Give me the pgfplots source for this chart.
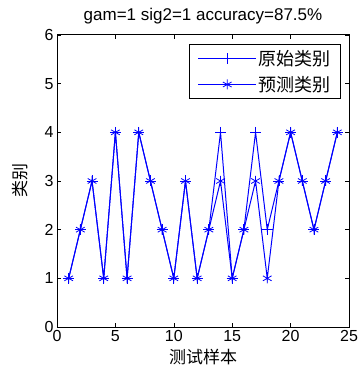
\documentclass[border=0pt]{standalone}
\usepackage{fontspec}
\setmainfont{Liberation Sans}
\newfontfamily\cjk{Noto Sans CJK SC}
\usepackage{pgfplots}
\pgfplotsset{compat=1.18}
\begin{document}
\begin{tikzpicture}
\path (-57pt,-44pt) rectangle (301pt,327pt);
\begin{axis}[
  at={(0,0)}, anchor=south west,
  scale only axis, width=292pt, height=292pt,
  xmin=0, xmax=25, ymin=0, ymax=6,
  xtick={0,5,...,25}, ytick={0,1,...,6},
  tick align=inside, major tick length=4pt,
  tick style={black, line width=0.6pt},
  axis line style={black, line width=1pt},
  /pgf/number format/assume math mode=true,
  tick label style={font=\fontsize{16}{17}\selectfont},
  title={gam=1 sig2=1 accuracy=87.5\%},
  title style={font=\fontsize{17}{18}\selectfont, at={(axis description cs:0.5,1.045)}, anchor=center},
  xlabel={\cjk 测试样本},
  ylabel={\cjk 类别},
  xlabel style={font=\fontsize{17}{18}\selectfont, at={(axis description cs:0.5,-0.103)}, anchor=center},
  ylabel style={font=\fontsize{17}{18}\selectfont, at={(axis description cs:-0.127,0.5)}, anchor=center},
  legend style={at={(0.973,0.969)}, anchor=north east, draw=black, line width=1pt,
    font=\cjk\fontsize{18}{20}\selectfont, row sep=5pt, inner xsep=8pt, inner ysep=4pt},
  legend cell align=left,
  legend image code/.code={
    \draw[#1, blue, line width=0.8pt] (0pt,0pt) -- (58pt,0pt);
    \draw[#1, blue, mark repeat=1] plot coordinates {(29pt,0pt)};
  },
]
\addplot[blue, line width=1pt, mark=+, mark size=5.5pt, mark options={blue, draw=blue, line width=0.8pt}] coordinates {
(1,1)(2,2)(3,3)(4,1)(5,4)(6,1)(7,4)(8,3)(9,2)(10,1)(11,3)(12,1)
(13,2)(14,4)(15,1)(16,2)(17,4)(18,2)(19,3)(20,4)(21,3)(22,2)(23,3)(24,4)};
\addlegendentry{原始类别}
\addplot[blue, line width=1pt, mark=asterisk, mark size=5pt, mark options={blue, draw=blue, line width=0.8pt}] coordinates {
(1,1)(2,2)(3,3)(4,1)(5,4)(6,1)(7,4)(8,3)(9,2)(10,1)(11,3)(12,1)
(13,2)(14,3)(15,1)(16,2)(17,3)(18,1)(19,3)(20,4)(21,3)(22,2)(23,3)(24,4)};
\addlegendentry{预测类别}
\end{axis}
\end{tikzpicture}
\end{document}
